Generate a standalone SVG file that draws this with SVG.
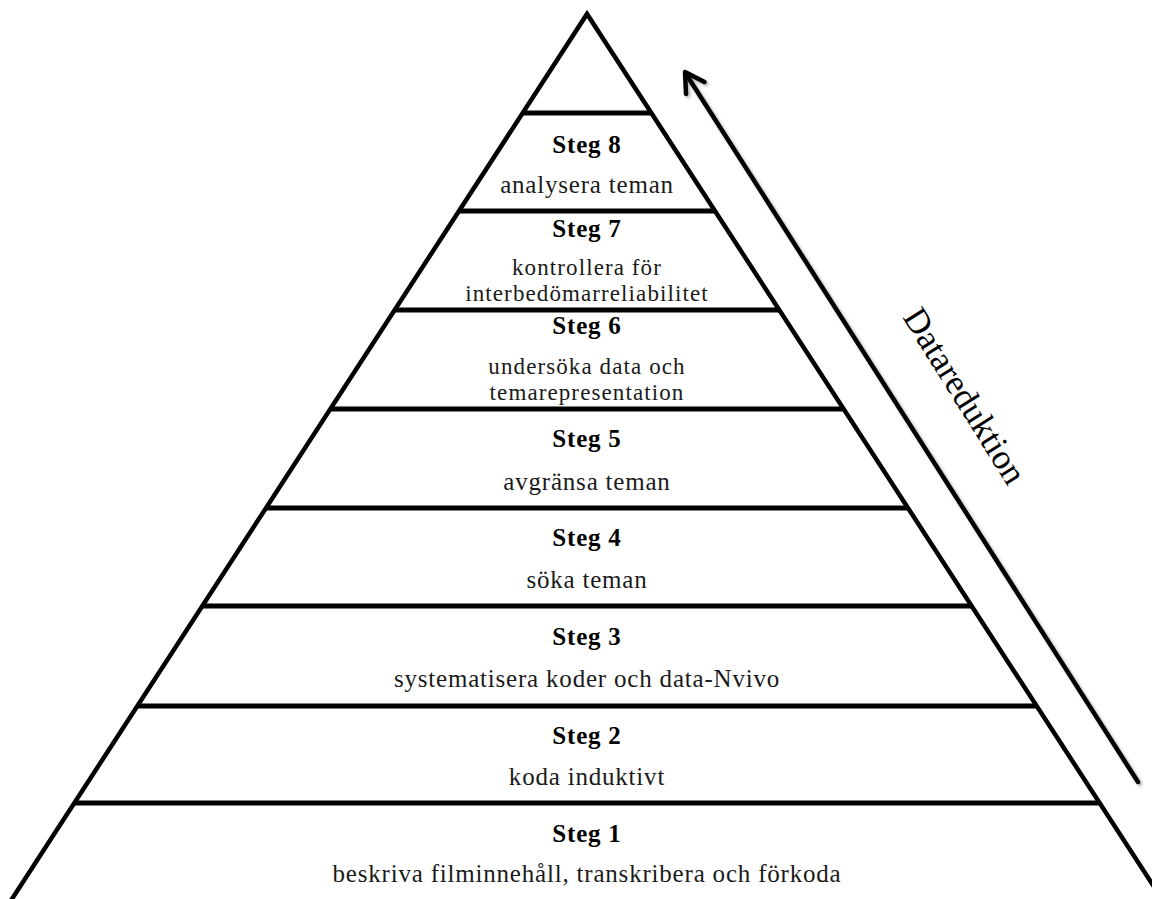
<svg xmlns="http://www.w3.org/2000/svg" width="1152" height="899" viewBox="0 0 1152 899">
<defs>
<style>
.edge{fill:none;stroke:#000;stroke-width:4.5;stroke-linejoin:miter}
.tier{stroke:#000;stroke-width:5}
.h{font-family:"Liberation Serif","Times New Roman",serif;font-weight:bold;font-size:25px;letter-spacing:0.8px;text-anchor:middle;fill:#000}
.b{font-family:"Liberation Serif","Times New Roman",serif;font-size:25px;letter-spacing:0.8px;text-anchor:middle;fill:#1a1a1a}
.b2{font-family:"Liberation Serif","Times New Roman",serif;font-size:23px;letter-spacing:1.1px;text-anchor:middle;fill:#1a1a1a}
.side{font-family:"Liberation Serif","Times New Roman",serif;font-size:35px;text-anchor:middle;fill:#000}
</style>
<filter id="sh" x="-10%" y="-10%" width="130%" height="130%">
<feDropShadow dx="2" dy="2" stdDeviation="1.5" flood-color="#000" flood-opacity="0.3"/>
</filter>
</defs>
<rect width="1152" height="899" fill="#fff"/>
<g id="pyramid">
<polyline class="edge" points="10,902 587,14 1164,902"/>
<line class="tier" x1="522.6" y1="113" x2="651.4" y2="113"/>
<line class="tier" x1="459" y1="211" x2="715" y2="211"/>
<line class="tier" x1="394.6" y1="310" x2="779.4" y2="310"/>
<line class="tier" x1="330.3" y1="409" x2="843.7" y2="409"/>
<line class="tier" x1="265.9" y1="508" x2="908.1" y2="508"/>
<line class="tier" x1="202.2" y1="606" x2="971.8" y2="606"/>
<line class="tier" x1="137.2" y1="706" x2="1036.8" y2="706"/>
<line class="tier" x1="74.2" y1="803" x2="1099.8" y2="803"/>
</g>
<g id="steg8"><text class="h" x="587" y="153">Steg 8</text><text class="b" x="587" y="193">analysera teman</text></g>
<g id="steg7"><text class="h" x="587" y="237">Steg 7</text><text class="b2" x="587" y="275">kontrollera för</text><text class="b2" x="587" y="301">interbedömarreliabilitet</text></g>
<g id="steg6"><text class="h" x="587" y="334">Steg 6</text><text class="b2" x="587" y="374">undersöka data och</text><text class="b2" x="587" y="400">temarepresentation</text></g>
<g id="steg5"><text class="h" x="587" y="447">Steg 5</text><text class="b" x="587" y="490">avgränsa teman</text></g>
<g id="steg4"><text class="h" x="587" y="546">Steg 4</text><text class="b" x="587" y="588">söka teman</text></g>
<g id="steg3"><text class="h" x="587" y="645">Steg 3</text><text class="b" x="587" y="687">systematisera koder och data-Nvivo</text></g>
<g id="steg2"><text class="h" x="587" y="744">Steg 2</text><text class="b" x="587" y="785">koda induktivt</text></g>
<g id="steg1"><text class="h" x="587" y="842">Steg 1</text><text class="b" x="587" y="882">beskriva filminnehåll, transkribera och förkoda</text></g>
<g id="connectors" filter="url(#sh)" fill="none" stroke="#000" stroke-width="4.5" stroke-linecap="round" stroke-linejoin="round">
<line x1="1138" y1="782" x2="686" y2="74"/>
<polyline points="704.5,82 685,72 686,94"/>
</g>
<g id="label"><text class="side" transform="translate(955,402) rotate(58)">Datareduktion</text></g>
</svg>
